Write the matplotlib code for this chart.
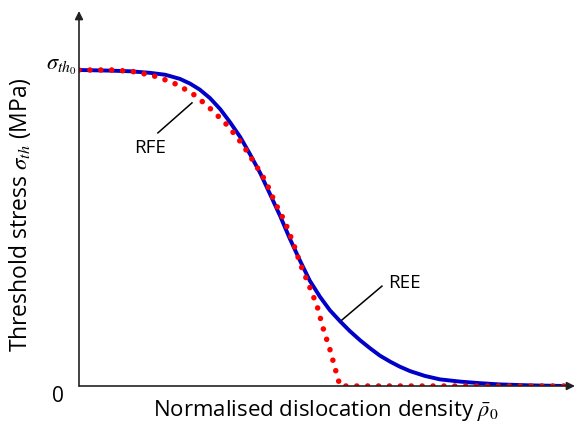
import numpy as np
import matplotlib.pyplot as plt
import matplotlib.transforms as mtransforms

plt.rcParams['font.family'] = ['Open Sans', 'DejaVu Sans']
plt.rcParams['mathtext.fontset'] = 'stix'

# normalised density vs normalised threshold stress (sigma / sigma_th0)
ree_x = [0.0, 0.064, 0.105, 0.146, 0.177, 0.207, 0.228, 0.248, 0.269, 0.290,
         0.310, 0.331, 0.351, 0.372, 0.392, 0.413, 0.433, 0.454, 0.474, 0.495,
         0.515, 0.536, 0.556, 0.577, 0.598, 0.618, 0.639, 0.659, 0.680, 0.710,
         0.741, 0.782, 0.823, 0.864, 0.926, 1.0]
ree_y = [1.0, 0.998, 0.996, 0.991, 0.985, 0.972, 0.957, 0.938, 0.911, 0.876,
         0.835, 0.788, 0.734, 0.674, 0.608, 0.538, 0.466, 0.396, 0.333, 0.282,
         0.240, 0.205, 0.174, 0.145, 0.119, 0.096, 0.077, 0.061, 0.047, 0.032,
         0.021, 0.014, 0.009, 0.005, 0.002, 0.0]

rfe_x = [0.0, 0.072, 0.117, 0.162, 0.203, 0.240, 0.273, 0.306, 0.335, 0.359,
         0.384, 0.402, 0.423, 0.439, 0.456, 0.472, 0.489, 0.501, 0.515, 0.528,
         0.536, 1.0]
rfe_y = [1.0, 1.0, 0.994, 0.978, 0.953, 0.918, 0.873, 0.823, 0.766, 0.709,
         0.646, 0.582, 0.519, 0.456, 0.380, 0.320, 0.253, 0.184, 0.117, 0.044,
         0.0, 0.0]

ytick_pos = [0, 1]
ytick_lab = ['0', r'$\sigma_{th_0}$']

fig = plt.figure(figsize=(5.76, 4.27), dpi=100)
ax = fig.add_axes([79 / 576, 40 / 427, 496 / 576, 375 / 427])

ax.plot(ree_x, ree_y, color='#0000c8', lw=2.8, solid_capstyle='round',
        solid_joinstyle='round', zorder=2)
ax.plot(rfe_x, rfe_y, color='#ff0000', lw=4.0, linestyle=(0, (0.01, 1.95)),
        dash_capstyle='round', zorder=3)

ax.set_xlim(0, 496 / 487)
ax.set_ylim(0, 375 / 316)

for s in ax.spines.values():
    s.set_visible(False)

# axes drawn as arrows
ax.annotate('', xy=(1, 0), xytext=(0, 0), xycoords='axes fraction',
            arrowprops=dict(arrowstyle='-|>', color='#222222', lw=1.2,
                            mutation_scale=12, shrinkA=0, shrinkB=0))
ax.annotate('', xy=(0, 1), xytext=(0, 0), xycoords='axes fraction',
            arrowprops=dict(arrowstyle='-|>', color='#222222', lw=1.2,
                            mutation_scale=12, shrinkA=0, shrinkB=0))

ax.set_xticks([])
ax.set_yticks(ytick_pos)
ax.set_yticklabels(ytick_lab)
ax.tick_params(axis='y', length=0, pad=2, labelsize=15)
# nudge the two tick labels: "0" sits a bit lower/left, sigma a bit higher
lab0, lab1 = ax.get_yticklabels()
lab0.set_transform(lab0.get_transform() +
                   mtransforms.ScaledTranslation(-9 / 72, -5 / 72, fig.dpi_scale_trans))
lab1.set_transform(lab1.get_transform() +
                   mtransforms.ScaledTranslation(0, 6 / 72, fig.dpi_scale_trans))
lab1.set_fontsize(16)

ax.set_xlabel(r'Normalised dislocation density $\bar{\rho}_0$', fontsize=16)
ax.xaxis.set_label_coords(0.498, -0.03)
ax.set_ylabel(r'Threshold stress $\sigma_{th}$ (MPa)', fontsize=16.5)
ax.yaxis.set_label_coords(-0.093, 0.459)

# curve labels with leader lines
ax.plot([0.162, 0.232], [0.801, 0.896], color='black', lw=1.1)
ax.text(0.146, 0.756, 'RFE', fontsize=13.5, ha='center', va='center')
ax.plot([0.622, 0.540], [0.316, 0.209], color='black', lw=1.1)
ax.text(0.669, 0.329, 'REE', fontsize=13.5, ha='center', va='center')

fig.savefig('out.png', dpi=100)
